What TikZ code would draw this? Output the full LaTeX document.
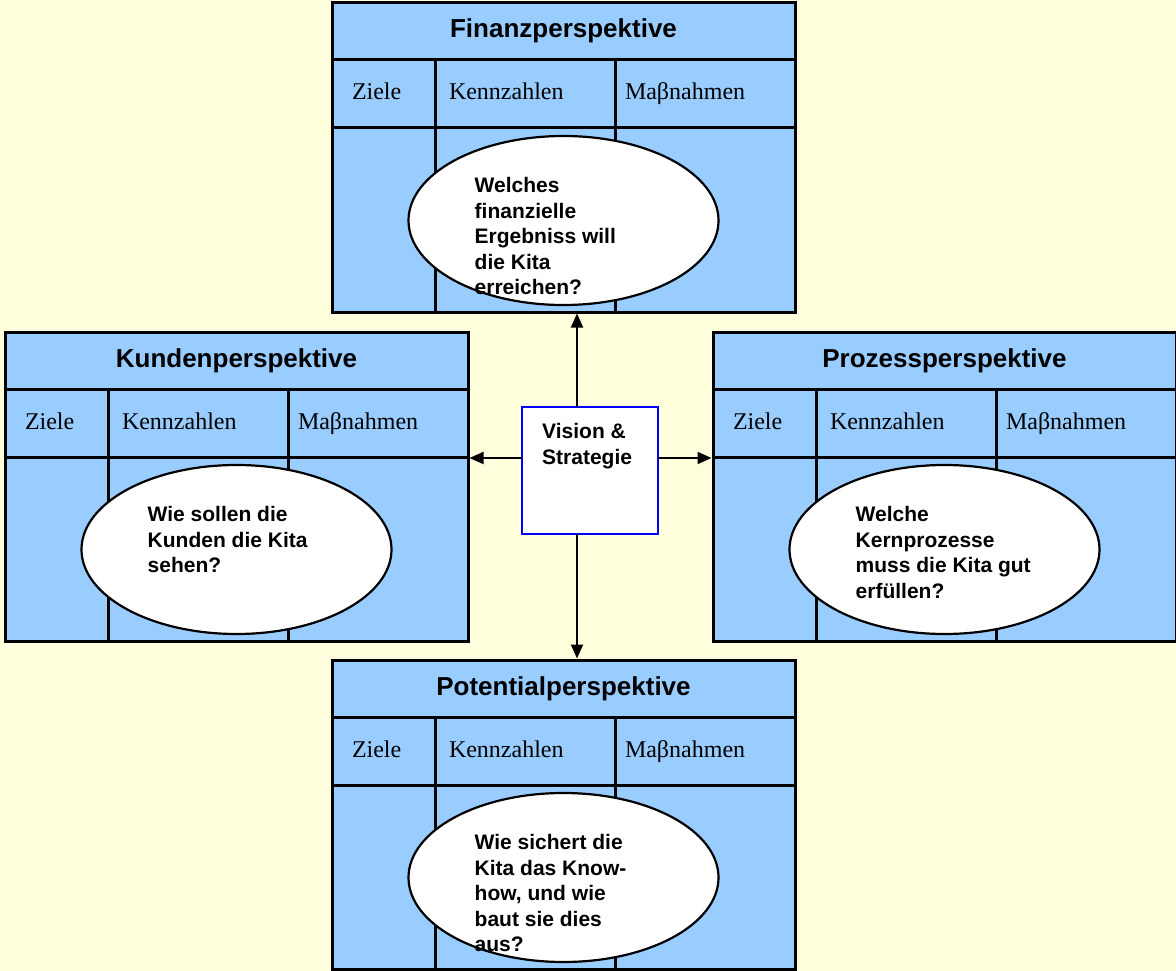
\documentclass[tikz,border=0pt]{standalone}
\usepackage{fontspec}
\setmainfont{Liberation Serif}
\setsansfont{Liberation Sans}
\usepackage{tikz}
\usetikzlibrary{shapes.geometric,arrows.meta,positioning,calc}

\definecolor{paper}{RGB}{255,255,221}
\definecolor{cellblue}{RGB}{153,204,255}

\begin{document}
\begin{tikzpicture}[x=1pt, y=-1pt,
    cell/.style={rectangle, draw, fill=cellblue, line width=3pt, outer sep=0pt, inner sep=0pt},
    head/.style={cell, minimum height=68, align=left, text height=17, text depth=5, font=\fontsize{24}{28}\selectfont},
    body/.style={cell, minimum height=184},
    bubble/.style={ellipse, draw, fill=white, line width=2.2pt, minimum width=310, minimum height=169, inner sep=0pt},
    question/.style={anchor=north west, align=left, inner sep=0pt, font=\sffamily\bfseries\fontsize{21}{25.6}\selectfont},
    arr/.style={line width=2pt, -{Triangle[length=14pt,width=12pt]}}]

    \fill[paper] (0,0) rectangle (1176,971);
    \useasboundingbox (0,0) rectangle (1176,971);

    % the four perspectives
    \foreach \p/\bx/\by/\ttl/\q in {
        finanz/332/3/Finanzperspektive/{Welches\\finanzielle\\Ergebniss will\\die Kita\\erreichen?},
        kunden/5/332/Kundenperspektive/{Wie sollen die\\Kunden die Kita\\sehen?},
        prozess/713/332/Prozessperspektive/{Welche\\Kernprozesse\\muss die Kita gut\\erfüllen?},
        potential/332/660/Potentialperspektive/{Wie sichert die\\Kita das Know-\\how, und wie\\baut sie dies\\aus?}}
    {
        \node (\p-t) [cell, anchor=north west, minimum width=463, minimum height=57, text height=19, text depth=6, font=\sffamily\bfseries\fontsize{26}{31}\selectfont] at (\bx,\by) {\ttl};
        \node (\p-h1) [head, below right=0pt and 0pt of \p-t.south west, text width=63, inner xsep=20] {Ziele};
        \node (\p-h2) [head, right=0pt of \p-h1, text width=152, inner xsep=14] {Kennzahlen};
        \node (\p-h3) [head, right=0pt of \p-h2, text width=160, inner xsep=10] {Maβnahmen};
        \node (\p-b1) [body, below=0pt of \p-h1, minimum width=103] {};
        \node (\p-b2) [body, below=0pt of \p-h2, minimum width=180] {};
        \node (\p-b3) [body, below=0pt of \p-h3, minimum width=180] {};
        \node (\p-e) [bubble] at ($(\p-t.north)+(0,217.5)$) {};
        \node (\p-q) [question] at ($(\p-e.center)+(-89,-43.5)$) {\q};
    }

    % centre
    \node (vision) [rectangle, draw=blue, fill=white, line width=2pt, outer sep=0pt, minimum width=136, minimum height=127, anchor=north west] at (522,407) {};
    \node (vision-q) [question] at (542,423.5) {Vision \&\\Strategie};

    \coordinate (axis) at (577,458);
    \draw[arr] (vision.north -| axis) -- ([yshift=-1.5pt]finanz-b2.south -| axis);
    \draw[arr] (vision.south -| axis) -- ([yshift=1.5pt]potential-t.north -| axis);
    \draw[arr] (vision.west |- axis) -- ([xshift=1.5pt]kunden-b3.east |- axis);
    \draw[arr] (vision.east |- axis) -- ([xshift=-1.5pt]prozess-b1.west |- axis);
\end{tikzpicture}
\end{document}
